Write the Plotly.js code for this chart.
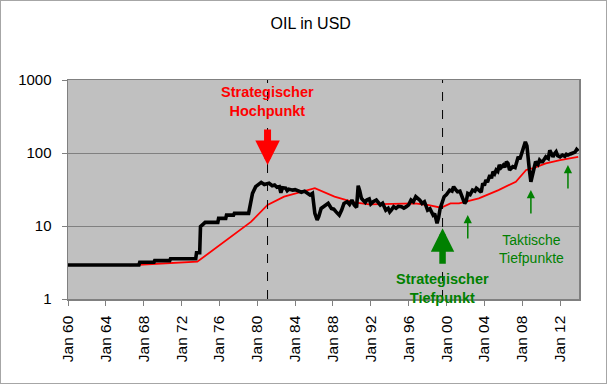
<!DOCTYPE html>
<html>
<head>
<meta charset="utf-8">
<script src="https://cdn.plot.ly/plotly-3.0.1.min.js"></script>
<style>
  html, body { margin: 0; padding: 0; background: #fff; }
  #wrap { position: absolute; left: 0; top: 0; width: 607px; height: 384px; box-sizing: border-box; border: 1px solid #a6a6a6; overflow: hidden; }
  #chart { position: absolute; left: -1px; top: -1px; width: 608px; height: 385px; }
</style>
</head>
<body>
<div id="wrap"><div id="chart"></div></div>
<script>
// ---- Data ----
const oilDates = [
  "1960-01","1967-07","1967-08","1969-02","1969-03","1970-10","1970-11","1973-07","1973-08","1973-12",
  "1974-01","1974-04","1974-07","1975-11","1975-12","1976-09","1976-10","1977-07","1977-08","1979-02",
  "1979-04","1979-07","1979-11","1980-03","1980-06","1980-10","1981-01","1981-04","1981-08","1981-11",
  "1982-02","1982-05","1982-07","1982-09","1983-01","1983-03","1983-05","1983-10","1984-01","1984-04",
  "1984-09","1985-01","1985-05","1985-08","1985-11","1986-02","1986-05","1986-07","1986-10","1987-01",
  "1987-04","1987-07","1987-11","1988-02","1988-05","1988-09","1988-12","1989-03","1989-07","1989-10",
  "1990-01","1990-04","1990-07","1990-09","1990-11","1991-01","1991-03","1991-06","1991-08","1991-11",
  "1992-01","1992-04","1992-08","1992-11","1993-01","1993-04","1993-08","1993-11","1994-01","1994-03",
  "1994-06","1994-09","1994-12","1995-04","1995-07","1995-10","1996-01","1996-04","1996-07","1996-10",
  "1997-01","1997-03","1997-06","1997-09","1998-01","1998-04","1998-08","1998-10","1999-01","1999-03",
  "1999-05","1999-07","1999-10","2000-01","2000-05","2000-08","2000-10","2001-01","2001-03","2001-06",
  "2001-08","2001-10","2001-12","2002-02","2002-04","2002-07","2002-10","2003-01","2003-03","2003-06",
  "2003-09","2003-11","2004-01","2004-03","2004-05","2004-08","2004-10","2004-12","2005-02","2005-04",
  "2005-06","2005-08","2005-10","2006-01","2006-03","2006-05","2006-07","2006-09","2006-11","2007-01",
  "2007-04","2007-08","2007-10","2008-02","2008-05","2008-07","2008-08","2008-10","2008-12","2009-03",
  "2009-06","2009-09","2009-11","2010-01","2010-03","2010-07","2010-10","2010-12","2011-02","2011-04",
  "2011-06","2011-08","2011-10","2012-01","2012-04","2012-07","2012-09","2012-11","2013-02","2013-05",
  "2013-08","2013-10","2013-12"
];
const oilPrice = [
  2.92,2.92,3.18,3.18,3.35,3.35,3.56,3.56,4.3,4.3,
  9.8,10.6,11.2,11.2,12.7,12.7,14.1,14.1,14.9,14.9,
  18.4,28,34.6,38,39.6,37,37.6,38.5,35.7,36.5,
  34,34.6,28.5,33.4,33,30.5,32,31,31.5,30.2,
  29,30,28,26.6,28,14.9,12.1,13.4,17.4,18.5,
  19.4,20.5,17.4,17,15.6,14.1,16.5,20.4,21.5,19.8,
  22.7,19.4,18,35.7,30.2,24,22.7,21,22.7,23.5,
  20,21.5,22.7,20.5,19.4,20.5,16.5,17.5,15.6,16.5,
  18.4,17.5,18.6,18.4,17.6,18.4,19.5,22.7,21.5,25.2,
  24,22.7,20.4,21.5,16.5,17.2,14.1,14.8,10.9,13,
  17.4,20.5,25.2,27,31,30,34.6,31,29.5,30,
  26.6,23,20.4,22,28,27,31,30,32.9,31,
  29,38.5,36,42.7,40,49.9,45,55.5,52,58.5,
  56,68.4,63,68.4,64,75.9,72,58.5,62,65,
  63,88.6,82,116,142,125,88.6,60,40.4,55.5,
  75.9,70,80,76,75.9,88.6,84,109,95,88.6,
  98,104,92,88.6,93.8,90,96,93.8,97,99,
  103,112,106
];
const avgDates = [
  "1966-07","1973-09","1979-05","1981-02","1982-11","1984-09","1985-11","1986-02","1988-03","1990-04",
  "1991-11","1996-09","1998-01","1999-06","2000-06","2001-05","2003-06","2005-07","2007-05","2008-06",
  "2009-03","2010-07","2012-01","2013-12"
];
const avgPrice = [
  2.9,3.24,11.4,19.4,25.2,29.5,32,32.9,25.2,21,
  19.8,20.4,19.4,17.8,20.4,20.4,23.9,31,40.4,58.5,
  61.9,72,80,88.6
];
const tickYears = [1960,1964,1968,1972,1976,1980,1984,1988,1992,1996,2000,2004,2008,2012];
const tickLabels = ["Jan 60","Jan 64","Jan 68","Jan 72","Jan 76","Jan 80","Jan 84","Jan 88","Jan 92","Jan 96","Jan 00","Jan 04","Jan 08","Jan 12"];
const yTicks = [1, 10, 100, 1000];
const markerDates = ["1981-02", "1999-08"];           // dashed lines
const tacticalDates = ["2002-04", "2008-12", "2012-11"]; // small green arrows
const tacticalValues = [14.1, 31.1, 68.5];

const red = "#ff0000", green = "#008000", gray = "#808080";
const font = "Liberation Sans, Arial, sans-serif";

const traces = [
  { x: avgDates, y: avgPrice, type: "scatter", mode: "lines",
    line: { color: red, width: 1.8 }, hoverinfo: "skip" },
  { x: oilDates, y: oilPrice, type: "scatter", mode: "lines",
    line: { color: "#000", width: 3.6 }, hoverinfo: "skip" }
];

const shapes = markerDates.map(d => ({
  type: "line", xref: "x", yref: "paper", x0: d, x1: d, y0: 0, y1: 1,
  line: { color: "#000", width: 1, dash: "dash" }, layer: "above"
}));

const annotations = [
  { x: "1981-02", y: Math.log10(515), xref: "x", yref: "y", showarrow: false,
    text: "Strategischer<br>Hochpunkt", font: { family: font, size: 14.5, color: red, weight: "bold" } },
  { x: "1981-02", y: Math.log10(68.5), xref: "x", yref: "y", showarrow: true, text: "",
    ax: 0, ay: -37, arrowcolor: red, arrowwidth: 7, arrowhead: 2, arrowsize: 0.7, standoff: 0 },
  { x: "1999-08", y: Math.log10(1.38), xref: "x", yref: "y", showarrow: false,
    text: "Strategischer<br>Tiefpunkt", font: { family: font, size: 14.5, color: green, weight: "bold" } },
  { x: "1999-08", y: Math.log10(9.3), xref: "x", yref: "y", showarrow: true, text: "",
    ax: 0, ay: 37, arrowcolor: green, arrowwidth: 6.5, arrowhead: 2, arrowsize: 0.72, standoff: 0 },
  { x: "2009-01", y: Math.log10(4.87), xref: "x", yref: "y", showarrow: false,
    text: "Taktische<br>Tiefpunkte", font: { family: font, size: 14, color: green } }
].concat(tacticalDates.map((d, i) => ({
  x: d, y: Math.log10(tacticalValues[i]), xref: "x", yref: "y", showarrow: true, text: "",
  ax: 0, ay: 25, arrowcolor: green, arrowwidth: 1.5, arrowhead: 2, arrowsize: 1.1, standoff: 0
})));

const layout = {
  width: 608, height: 385,
  margin: { l: 68, r: 29, t: 80, b: 86 },
  paper_bgcolor: "#ffffff", plot_bgcolor: "#c0c0c0",
  showlegend: false,
  font: { family: font, size: 14, color: "#000" },
  title: { text: "OIL in USD", font: { family: font, size: 16, color: "#000" },
           xref: "paper", x: 0.475, y: 0.94, yanchor: "middle" },
  xaxis: {
    type: "date", range: ["1960-01-01", "2014-01-01"],
    tickvals: tickYears.map(y => y + "-01-01"), ticktext: tickLabels,
    tickangle: -90, ticks: "outside", ticklen: 5, tickcolor: gray, tickwidth: 1,
    showgrid: false, zeroline: false, showline: true, linecolor: gray, linewidth: 1.5, mirror: true,
    tickfont: { family: font, size: 15.5, color: "#000" }, ticklabelstandoff: 4
  },
  yaxis: {
    type: "log", range: [0, 3], tickvals: yTicks, ticktext: yTicks.map(String),
    ticks: "outside", ticklen: 5, tickcolor: gray, tickwidth: 1,
    showgrid: true, gridcolor: gray, gridwidth: 1, zeroline: false,
    showline: true, linecolor: gray, linewidth: 1.5, mirror: true,
    tickfont: { family: font, size: 15, color: "#000" }, ticklabelstandoff: 7
  },
  shapes: shapes,
  annotations: annotations
};

Plotly.newPlot("chart", traces, layout, { staticPlot: true, displayModeBar: false });
</script>
</body>
</html>
